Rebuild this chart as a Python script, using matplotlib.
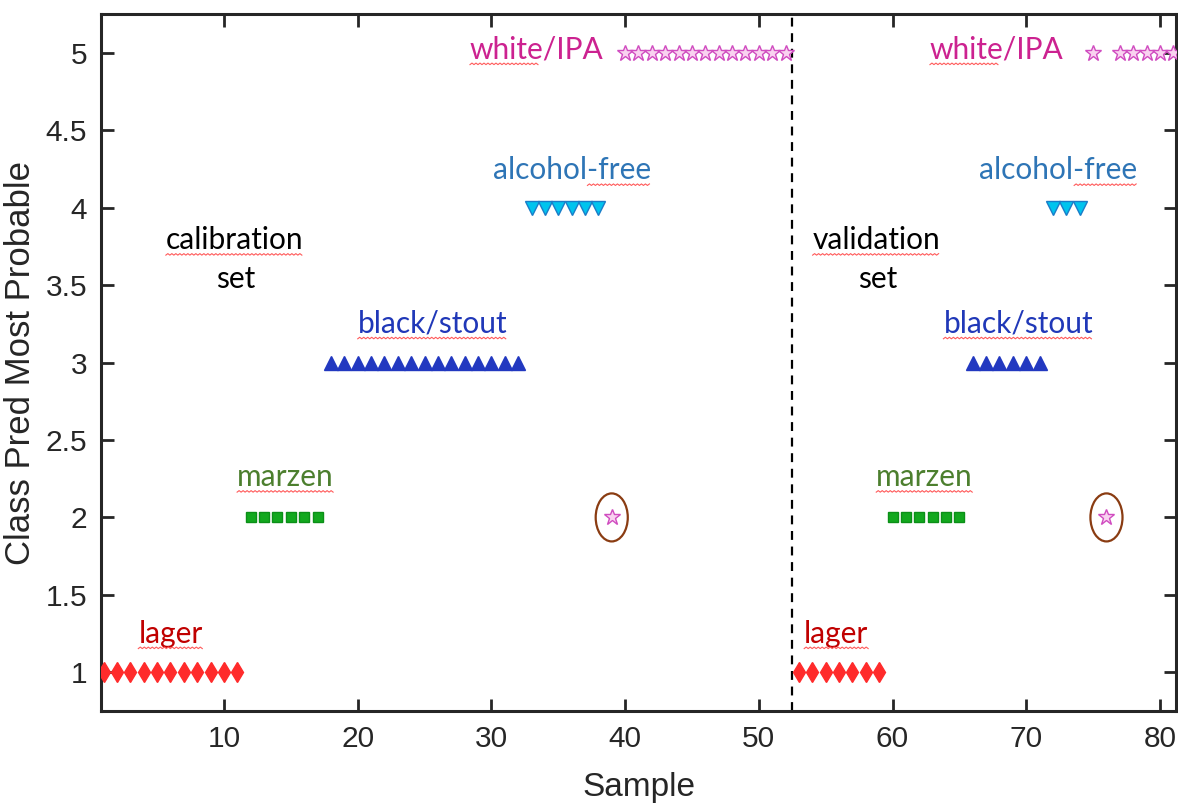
import numpy as np
import matplotlib

matplotlib.use("Agg")
import matplotlib.pyplot as plt
from matplotlib.lines import Line2D
from matplotlib.patches import Ellipse
from matplotlib.transforms import IdentityTransform

# Most probable predicted class for each sample (1-52 calibration, 53-81 validation)
pred_class = [
    1, 1, 1, 1, 1, 1, 1, 1, 1, 1, 1,
    2, 2, 2, 2, 2, 2,
    3, 3, 3, 3, 3, 3, 3, 3, 3, 3, 3, 3, 3, 3, 3,
    4, 4, 4, 4, 4, 4,
    2,
    5, 5, 5, 5, 5, 5, 5, 5, 5, 5, 5, 5, 5,
    1, 1, 1, 1, 1, 1, 1,
    2, 2, 2, 2, 2, 2,
    3, 3, 3, 3, 3, 3,
    4, 4, 4,
    5, 2, 5, 5, 5, 5, 5,
]
# Known beer type of each sample
true_class = [
    1, 1, 1, 1, 1, 1, 1, 1, 1, 1, 1,
    2, 2, 2, 2, 2, 2,
    3, 3, 3, 3, 3, 3, 3, 3, 3, 3, 3, 3, 3, 3, 3,
    4, 4, 4, 4, 4, 4,
    5,
    5, 5, 5, 5, 5, 5, 5, 5, 5, 5, 5, 5, 5,
    1, 1, 1, 1, 1, 1, 1,
    2, 2, 2, 2, 2, 2,
    3, 3, 3, 3, 3, 3,
    4, 4, 4,
    5, 5, 5, 5, 5, 5, 5,
]
n_calibration = 52
class_names = ["lager", "marzen", "black/stout", "alcohol-free", "white/IPA"]

# marker, size, face, edge, text colour per class
styles = {
    1: dict(marker="d", ms=10.5, mfc="#ff2b2b", mec="#ff2b2b", text="#c00000"),
    2: dict(marker="s", ms=7.4, mfc="#12a81e", mec="#0b8f18", text="#4c7f2e"),
    3: dict(marker="^", ms=10.0, mfc="#2238c0", mec="#2238c0", text="#2038b8"),
    4: dict(marker="v", ms=10.0, mfc="#00c4ee", mec="#1a7cc8", text="#2e75b6"),
    5: dict(marker="*", ms=12.0, mfc="#f9d2f0", mec="#d04cc0", text="#cc2290"),
}

# label centres (sample, class) for the calibration and validation halves
label_pos = {
    1: [(6.0, 1.25), (55.8, 1.25)],
    2: [(14.6, 2.26), (62.4, 2.26)],
    3: [(25.6, 3.25), (69.4, 3.25)],
    4: [(36.0, 4.24), (72.4, 4.24)],
    5: [(33.4, 5.02), (67.8, 5.02)],
}
# part of each label that carries a spell-check squiggle (start, end fraction)
squiggle_span = {1: (0, 1), 2: (0, 1), 3: (0, 1), 4: (0.6, 1), 5: (0, 0.52)}

sample = np.arange(1, len(pred_class) + 1)
pred = np.array(pred_class)
true = np.array(true_class)

fig = plt.figure(figsize=(11.78, 8.08), dpi=100)
ax = fig.add_axes([0.0857, 0.12, 0.9126, 0.8627])

for cls, st in styles.items():
    sel = true == cls
    ax.plot(sample[sel], pred[sel], linestyle="none", marker=st["marker"],
            ms=st["ms"], mfc=st["mfc"], mec=st["mec"], mew=1.0, zorder=3)

# circle the misclassified samples
for s, p, t in zip(sample, pred, true):
    if p != t:
        ax.add_patch(Ellipse((s, p), 2.4, 0.31, fill=False,
                             ec="#8a3c12", lw=1.6, zorder=4))

ax.axvline(n_calibration + 0.5, color="black", ls=(0, (4, 3)), lw=1.6)

lab_font = ["Lato", "DejaVu Sans"]
lab_size = 21.5
texts = []
for cls, positions in label_pos.items():
    for x, y in positions:
        t = ax.text(x, y, class_names[cls - 1], color=styles[cls]["text"],
                    fontsize=lab_size, family=lab_font, ha="center", va="center")
        texts.append((t, squiggle_span[cls]))

for x, word in [(10.8, "calibration"), (58.8, "validation")]:
    t = ax.text(x, 3.79, word, fontsize=lab_size, family=lab_font,
                ha="center", va="center", color="black")
    texts.append((t, (0, 1)))
    ax.text(x + 0.1, 3.54, "set", fontsize=lab_size, family=lab_font,
            ha="center", va="center", color="black")

ax.set_xlim(0.8, 81.2)
ax.set_ylim(0.75, 5.25)
ax.set_xticks(np.arange(10, 81, 10))
yt = np.arange(1, 5.01, 0.5)
ax.set_yticks(yt)
ax.set_yticklabels([f"{v:g}" for v in yt])

tick_font = "Liberation Sans"
ax.tick_params(direction="in", length=9, width=2, top=True, right=True,
               labelsize=21.5, colors="#262626", pad=10)
for lab in ax.get_xticklabels() + ax.get_yticklabels():
    lab.set_family(tick_font)
for sp in ax.spines.values():
    sp.set_linewidth(2.2)
    sp.set_color("#262626")

ax.set_xlabel("Sample", fontsize=24, family=tick_font, color="#262626",
              labelpad=14)
ax.set_ylabel("Class Pred Most Probable", fontsize=25, family=tick_font,
              color="#262626", labelpad=6)

# red wavy underline under flagged words
fig.canvas.draw()
renderer = fig.canvas.get_renderer()
for t, (f0, f1) in texts:
    bb = t.get_window_extent(renderer)
    x0 = bb.x0 + f0 * bb.width
    x1 = bb.x0 + f1 * bb.width
    xs = np.arange(x0, x1, 2.0)
    ys = bb.y0 - 1 + 1.5 * (np.arange(len(xs)) % 2)
    fig.add_artist(Line2D(xs, ys, transform=IdentityTransform(),
                          color="#ff5a5a", lw=0.8))

fig.savefig("out.png", dpi=100)
